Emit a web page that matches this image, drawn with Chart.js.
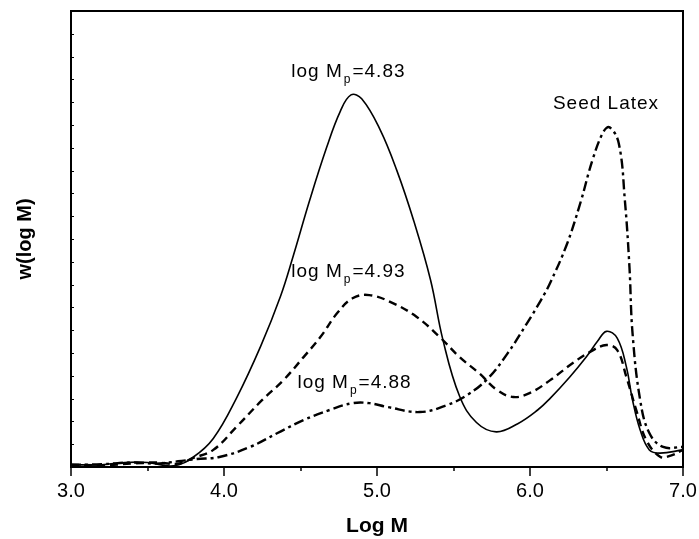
<!DOCTYPE html>
<html>
<head>
<meta charset="utf-8">
<script src="https://cdn.jsdelivr.net/npm/chart.js@4.4.1/dist/chart.umd.min.js"></script>
<style>
html, body { margin: 0; padding: 0; background: #fff; }
#wrap { width: 699px; height: 539px; }
</style>
</head>
<body>
<div id="wrap"><canvas id="gpcChart"></canvas></div>
<script>
// molecular weight distributions, log M vs w(log M)
const solidLogM = [3.0, 3.2, 3.35, 3.5, 3.67, 3.8, 3.93, 4.08, 4.24, 4.37, 4.45, 4.56, 4.67, 4.76, 4.83, 4.90, 5.02, 5.13, 5.24, 5.35, 5.43, 5.54, 5.65, 5.78, 5.92, 6.05, 6.13, 6.26, 6.37, 6.44, 6.50, 6.57, 6.63, 6.67, 6.72, 6.78, 6.85, 7.0];
const solidW    = [0.1, 0.1, 0.2, 0.2, 0.05, 0.44, 1.25, 3.0, 5.3, 7.5, 9.2, 11.7, 14.0, 15.6, 16.32, 16.15, 14.8, 13.0, 10.8, 8.2, 5.6, 3.1, 1.95, 1.54, 1.9, 2.5, 3.0, 3.95, 4.85, 5.5, 5.95, 5.65, 4.39, 2.94, 1.62, 0.75, 0.61, 0.75];

const dashLogM = [3.0, 3.2, 3.4, 3.55, 3.7, 3.8, 3.93, 4.08, 4.25, 4.39, 4.52, 4.63, 4.74, 4.84, 4.95, 5.10, 5.26, 5.41, 5.54, 5.67, 5.78, 5.89, 6.0, 6.13, 6.28, 6.39, 6.50, 6.57, 6.63, 6.70, 6.76, 6.85, 6.92, 7.0];
const dashW    = [0.1, 0.08, 0.15, 0.2, 0.15, 0.4, 0.75, 1.75, 2.94, 3.82, 4.82, 5.7, 6.75, 7.4, 7.54, 7.2, 6.58, 5.7, 4.82, 4.1, 3.4, 3.07, 3.25, 3.8, 4.56, 5.04, 5.35, 5.13, 3.95, 2.37, 1.18, 0.45, 0.5, 0.75];

const dotLogM = [3.0, 3.2, 3.4, 3.55, 3.7, 3.82, 3.97, 4.17, 4.35, 4.52, 4.69, 4.84, 4.95, 5.07, 5.28, 5.46, 5.59, 5.72, 5.85, 5.98, 6.07, 6.13, 6.24, 6.33, 6.41, 6.48, 6.52, 6.58, 6.62, 6.65, 6.67, 6.72, 6.78, 6.87, 7.0];
const dotW    = [0.1, 0.12, 0.2, 0.15, 0.25, 0.35, 0.44, 0.88, 1.49, 2.06, 2.5, 2.8, 2.8, 2.63, 2.41, 2.72, 3.16, 3.85, 4.95, 6.3, 7.3, 8.05, 9.75, 11.6, 13.5, 14.7, 14.9, 14.2, 11.7, 8.77, 5.88, 2.94, 1.49, 0.88, 0.88];

const xTicks = [3.0, 3.5, 4.0, 4.5, 5.0, 5.5, 6.0, 6.5, 7.0];

// peak annotations: value text, anchor (log M, w)
const mpValues = ['4.83', '4.93', '4.88'];
const mpAtX = [4.44, 4.44, 4.48];
const mpAtY = [17.1, 8.33, 3.46];
const seedText = 'Seed Latex';
const seedAt = [6.15, 15.7];

const FONT = '"Liberation Sans", Arial, Helvetica, sans-serif';

function pts(xs, ys) {
    return xs.map((x, i) => ({ x: x, y: ys[i] }));
}

function drawMp(ctx, x, y, value) {
    ctx.font = '19px ' + FONT;
    ctx.fillText('log M', x, y);
    const w = ctx.measureText('log M').width;
    ctx.font = '12px ' + FONT;
    ctx.fillText('p', x + w + 1, y + 6);
    const pw = ctx.measureText('p').width;
    ctx.font = '19px ' + FONT;
    ctx.fillText('=' + value, x + w + pw + 2, y);
}

const framePlugin = {
    id: 'frame',
    afterDatasetsDraw(chart) {
        const { ctx, chartArea: a, scales } = chart;
        ctx.save();
        ctx.strokeStyle = '#000';
        ctx.lineWidth = 2;
        ctx.strokeRect(a.left, a.top, a.right - a.left, a.bottom - a.top);

        // x ticks, outward
        ctx.lineWidth = 1.5;
        xTicks.forEach(v => {
            const px = Math.round(scales.x.getPixelForValue(v));
            const len = Number.isInteger(v) ? 9 : 4;
            ctx.beginPath();
            ctx.moveTo(px, a.bottom);
            ctx.lineTo(px, a.bottom + len);
            ctx.stroke();
        });

        // small inward ticks on the w axis
        ctx.lineWidth = 1;
        scales.y.ticks.forEach(t => {
            if (t.value <= 0 || t.value >= 20) return;
            const py = Math.round(scales.y.getPixelForValue(t.value)) + 0.5;
            ctx.beginPath();
            ctx.moveTo(a.left, py);
            ctx.lineTo(a.left + 3, py);
            ctx.stroke();
        });

        ctx.fillStyle = '#000';
        ctx.textBaseline = 'alphabetic';
        ctx.letterSpacing = '1px';
        mpValues.forEach((v, i) => {
            drawMp(ctx, scales.x.getPixelForValue(mpAtX[i]), scales.y.getPixelForValue(mpAtY[i]), v);
        });
        ctx.font = '19px ' + FONT;
        ctx.fillText(seedText, scales.x.getPixelForValue(seedAt[0]), scales.y.getPixelForValue(seedAt[1]));
        ctx.restore();
    }
};

const gpcChart = new Chart(document.getElementById('gpcChart'), {
    type: 'line',
    data: {
        datasets: [
            {
                label: 'log Mp=4.83',
                data: pts(solidLogM, solidW),
                borderColor: '#000',
                borderWidth: 1.6,
                pointRadius: 0,
                tension: 0.4
            },
            {
                label: 'log Mp=4.93',
                data: pts(dashLogM, dashW),
                borderColor: '#000',
                borderWidth: 2.4,
                borderDash: [8, 5],
                pointRadius: 0,
                tension: 0.4
            },
            {
                label: 'log Mp=4.88 / Seed Latex',
                data: pts(dotLogM, dotW),
                borderColor: '#000',
                borderWidth: 2.4,
                borderDash: [10, 4, 3, 4],
                pointRadius: 0,
                tension: 0.4
            }
        ]
    },
    options: {
        responsive: true,
        maintainAspectRatio: false,
        animation: false,
        layout: { padding: { top: 11, right: 16, left: 0, bottom: 0 } },
        plugins: {
            legend: { display: false },
            tooltip: { enabled: false }
        },
        scales: {
            x: {
                type: 'linear',
                min: 3,
                max: 7,
                afterFit: s => {
                    s.height = 72;
                    // let the end labels overhang instead of shrinking the plot
                    s.paddingLeft = 0;
                    s.paddingRight = 0;
                },
                grid: { display: false, drawTicks: false },
                border: { display: false },
                ticks: {
                    stepSize: 0.5,
                    autoSkip: false,
                    maxRotation: 0,
                    padding: 12,
                    color: '#000',
                    font: { family: FONT, size: 20 },
                    callback: v => Number.isInteger(v) ? v.toFixed(1) : ''
                },
                title: {
                    display: true,
                    text: 'Log M',
                    color: '#000',
                    font: { family: FONT, size: 21, weight: 'bold' },
                    padding: { top: 0, bottom: 0 }
                }
            },
            y: {
                min: 0,
                max: 20,
                afterFit: s => { s.width = 71; },
                grid: { display: false, drawTicks: false },
                border: { display: false },
                ticks: { display: false, stepSize: 1 },
                title: {
                    display: true,
                    text: 'w(log M)',
                    color: '#000',
                    font: { family: FONT, size: 20, weight: 'bold' },
                    padding: { top: 13, bottom: 0 }
                }
            }
        }
    },
    plugins: [framePlugin]
});
</script>
</body>
</html>
